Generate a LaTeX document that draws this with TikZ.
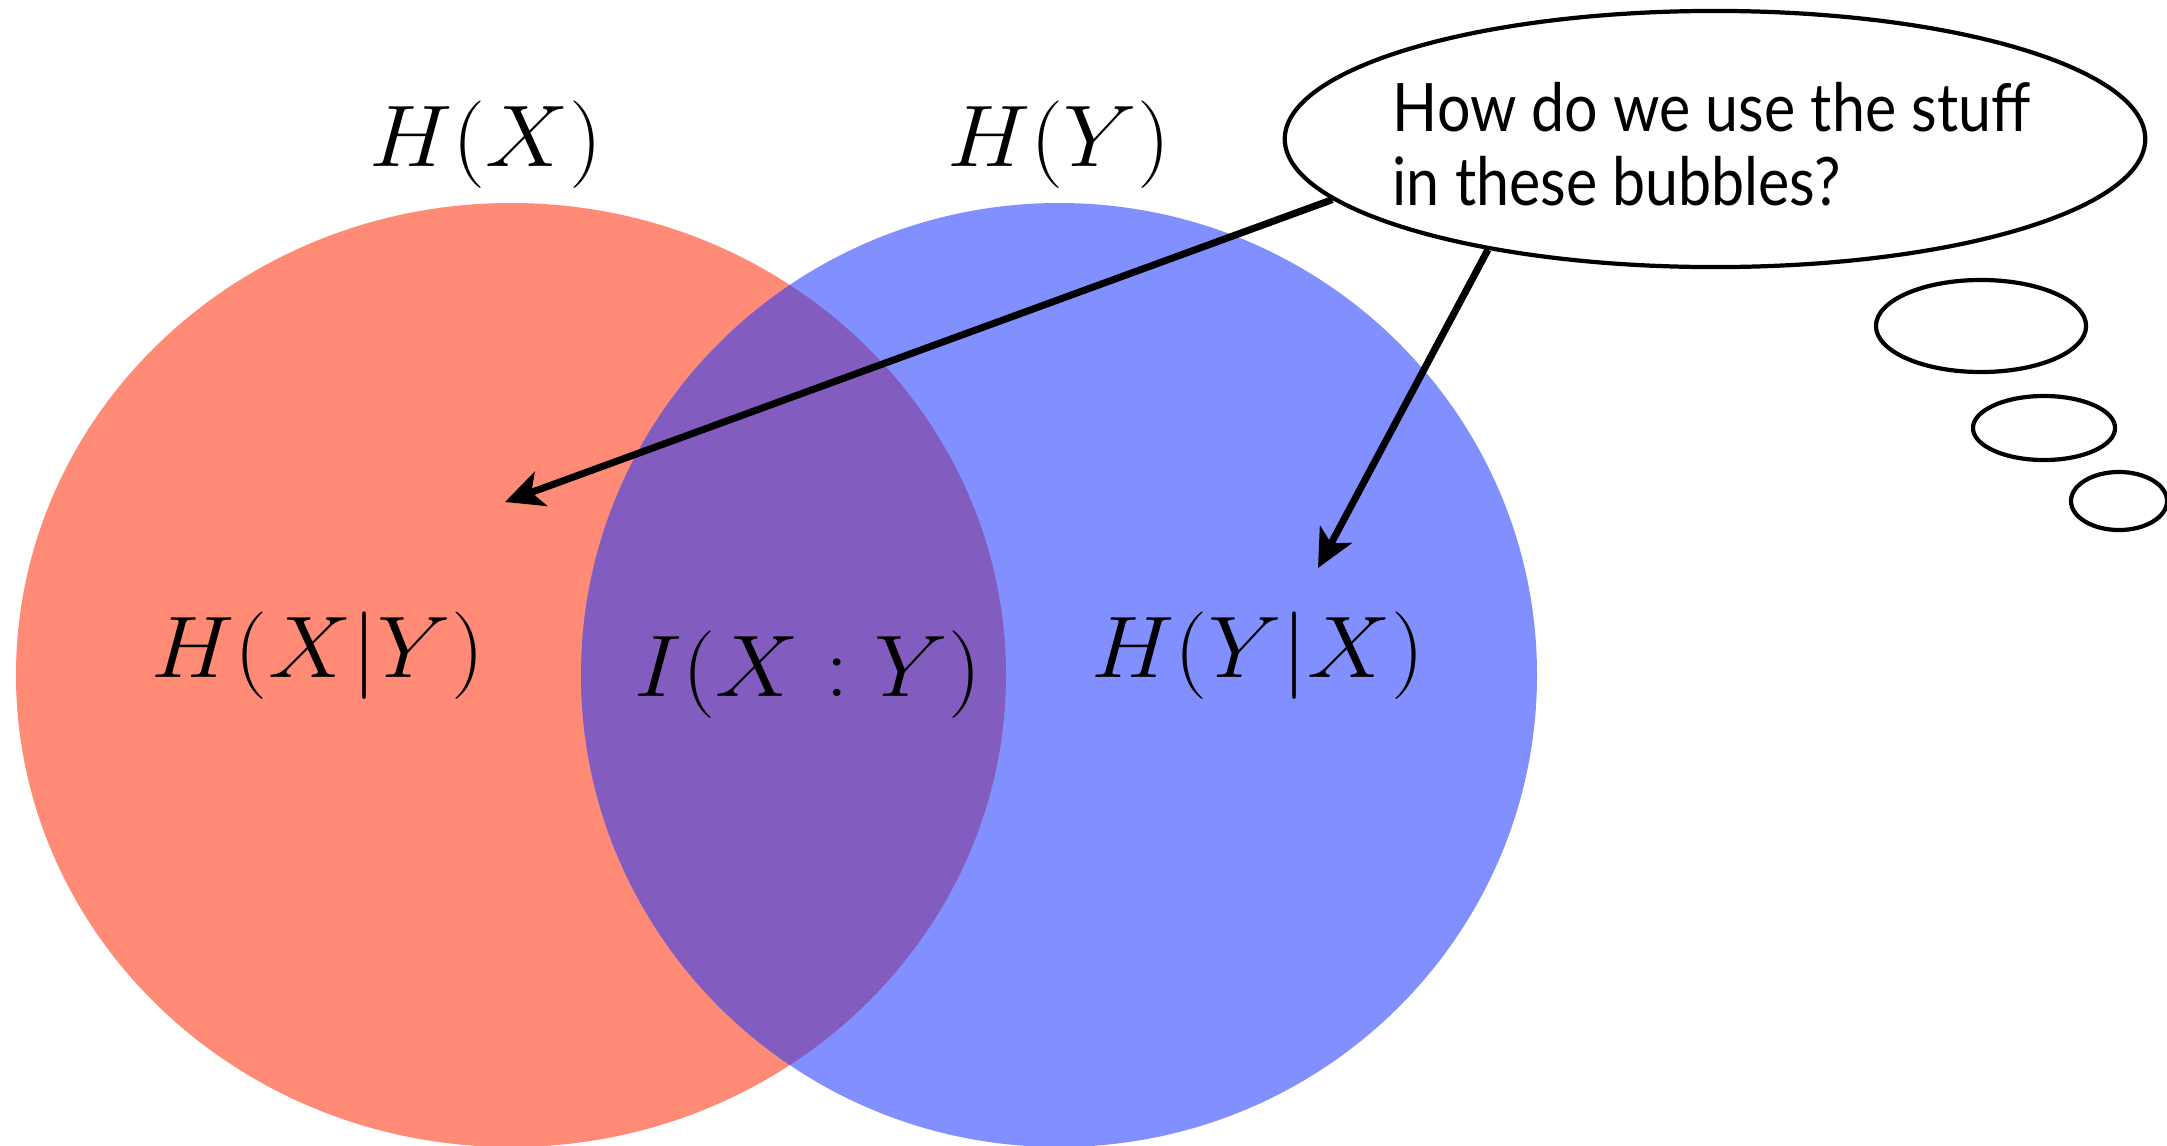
\documentclass[tikz,border=0pt]{standalone}
\usepackage{fontspec}
\setmainfont{Lato}[FakeStretch=0.885]
\usetikzlibrary{arrows.meta,shapes.geometric}
\definecolor{salmon}{HTML}{FF8A75}
\definecolor{bluec}{HTML}{8290FF}
\definecolor{purplec}{HTML}{825CBE}
\newcommand{\wmath}[1]{\scalebox{1.07}[1]{$#1$}}
\begin{document}
\begin{tikzpicture}[x=0.01cm,y=-0.01cm,
  mathlabel/.style={inner sep=0pt,font=\fontsize{30}{33}\selectfont},
  thought/.style={draw,line width=1.2pt,ellipse,inner sep=0pt,fill=white},
  pointer/.style={line width=2pt,-{Stealth[length=0.38cm,width=0.36cm,inset=0.1cm]}}]
\useasboundingbox (0,0) rectangle (2167,1145);
% Venn circles
\fill[salmon] (511,675) ellipse [x radius=495, y radius=472];
\fill[bluec] (1059,675) ellipse [x radius=478, y radius=472];
\begin{scope}
  \clip (511,675) ellipse [x radius=495, y radius=472];
  \fill[purplec] (1059,675) ellipse [x radius=478, y radius=472];
\end{scope}
% labels
\node[mathlabel] (hx) at (486,145) {\wmath{H(X)}};
\node[mathlabel] (hy) at (1059,145) {\wmath{H(Y)}};
\node[mathlabel] (hxy) at (318,656) {\wmath{H(X|Y)}};
\node[mathlabel] (ixy) at (808,675) {\wmath{I(X:Y)}};
\node[mathlabel] (hyx) at (1258,656) {\wmath{H(Y|X)}};
% thought bubble
\node[thought,minimum width=8.6cm,minimum height=2.56cm] (bubble) at (1715,139) {};
\node[thought,minimum width=2.1cm,minimum height=0.92cm] (b1) at (1981,326) {};
\node[thought,minimum width=1.42cm,minimum height=0.64cm] (b2) at (2044,428) {};
\node[thought,minimum width=0.96cm,minimum height=0.58cm] (b3) at (2119,501) {};
\node[anchor=base west,align=left,inner sep=0pt,font=\fontsize{19}{21}\selectfont] (q) at (1392,205)
  {How do we use the stuff\\in these bubbles?};
% arrows
\coordinate (t1) at (505,502);
\coordinate (t2) at (1318,568);
\draw[pointer] (bubble.189) -- (t1);
\draw[pointer] (bubble.206) -- (t2);
\end{tikzpicture}
\end{document}
